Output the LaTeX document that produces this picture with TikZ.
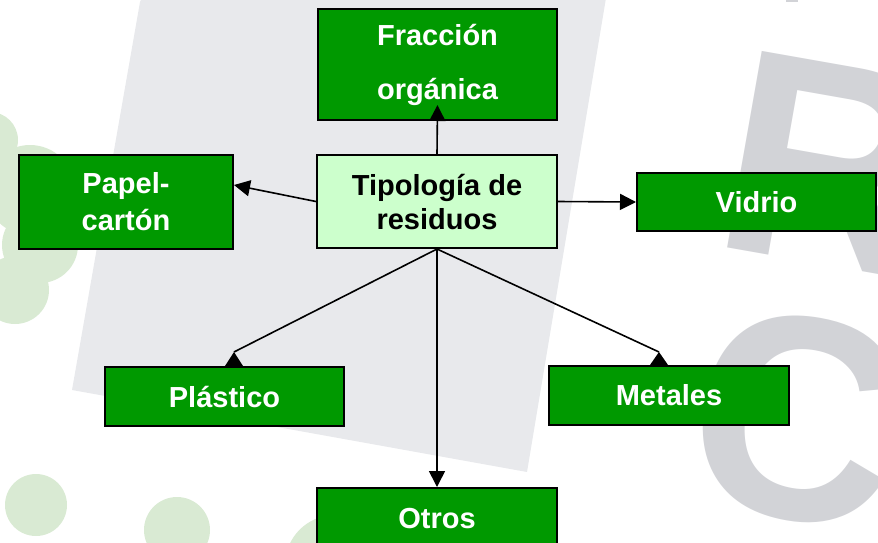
\documentclass[tikz,border=0pt]{standalone}
\usepackage{fontspec}
\setmainfont{Liberation Sans}
\usetikzlibrary{arrows.meta,calc}
\definecolor{boxgreen}{HTML}{009900}
\definecolor{lightbox}{HTML}{CCFFCC}
\definecolor{panelgray}{HTML}{E8E9EC}
\definecolor{lettergray}{HTML}{D2D3D7}
\definecolor{dotgreen}{HTML}{D9EAD3}
\begin{document}
\begin{tikzpicture}[x=1pt,y=-1pt,
  box/.style={draw=black,line width=2pt,fill=boxgreen,text=white,
    align=center,inner sep=0pt,anchor=north west},
  boxfont/.style={font=\bfseries\fontsize{29}{#1}\selectfont},
  arr/.style={-{Triangle[length=16pt,width=16pt]},line width=1.6pt},
  lin/.style={line width=1.6pt},
  head/.style={fill=black},
  logo/.style={text=lettergray,font=\bfseries\fontsize{290}{290}\selectfont,inner sep=0pt,rotate=-10}]
\useasboundingbox (0,0) rectangle (878,542);
\begin{scope}
\clip (0,0) rectangle (878,542);
% background watermark
\fill[panelgray] (150,-20) -- (140,2) -- (72,390) -- (527,472) -- (609,-20) -- cycle;
\node[logo,anchor=base west] (lr) at (708,244) {R};
\node[logo,anchor=center] (lc) at (797,418) {C};
\fill[lettergray] (786,-5) rectangle (798,2);
\fill[dotgreen] (-10,140) circle (28);
\fill[dotgreen] (30,190) circle (45);
\fill[dotgreen] (40,245) circle (38);
\fill[dotgreen] (15,290) circle (34);
\fill[dotgreen] (36,505) circle (31);
\fill[dotgreen] (177,530) circle (33);
\fill[dotgreen] (335,565) circle (50);
% boxes
\node[box,boxfont=54,minimum width=239pt,minimum height=111pt] (f) at (317,8) {Fracción\\orgánica};
\node[box,boxfont=34,fill=lightbox,text=black,minimum width=240pt,minimum height=93pt] (t) at (316,154) {Tipología de\\residuos};
\node[box,boxfont=37,minimum width=214pt,minimum height=94pt] (pc) at (18,154) {Papel-\\cartón};
\node[box,boxfont=34,minimum width=239pt,minimum height=58pt] (v) at (636,172) {Vidrio};
\node[box,boxfont=34,minimum width=239pt,minimum height=59pt] (p) at (104,366) {Plástico};
\node[box,boxfont=34,minimum width=240pt,minimum height=59pt] (m) at (548,365) {Metales};
\node[box,boxfont=34,minimum width=240pt,minimum height=61pt] (o) at (316,487) {Otros};
% apex points of the heads sitting on Plástico and Metales
\coordinate (pa) at ($(p.north)+(9.5,-14)$);
\coordinate (ma) at ($(m.north)+(-10,-13)$);
% connectors
\draw[arr] (t.north) -- ($(f.south)+(0,-16)$);
\draw[arr] (t.west) -- ($(pc.east)+(0,-17)$);
\draw[arr] (t.east) -- (v.west);
\draw[lin] (t.south) -- (pa);
\fill[head] (pa) -- ++(-9,14) -- ++(18,0) -- cycle;
\draw[lin] (t.south) -- (ma);
\fill[head] (ma) -- ++(-9,13) -- ++(18,0) -- cycle;
\draw[arr] (t.south) -- (o.north);
\end{scope}
\end{tikzpicture}
\end{document}
